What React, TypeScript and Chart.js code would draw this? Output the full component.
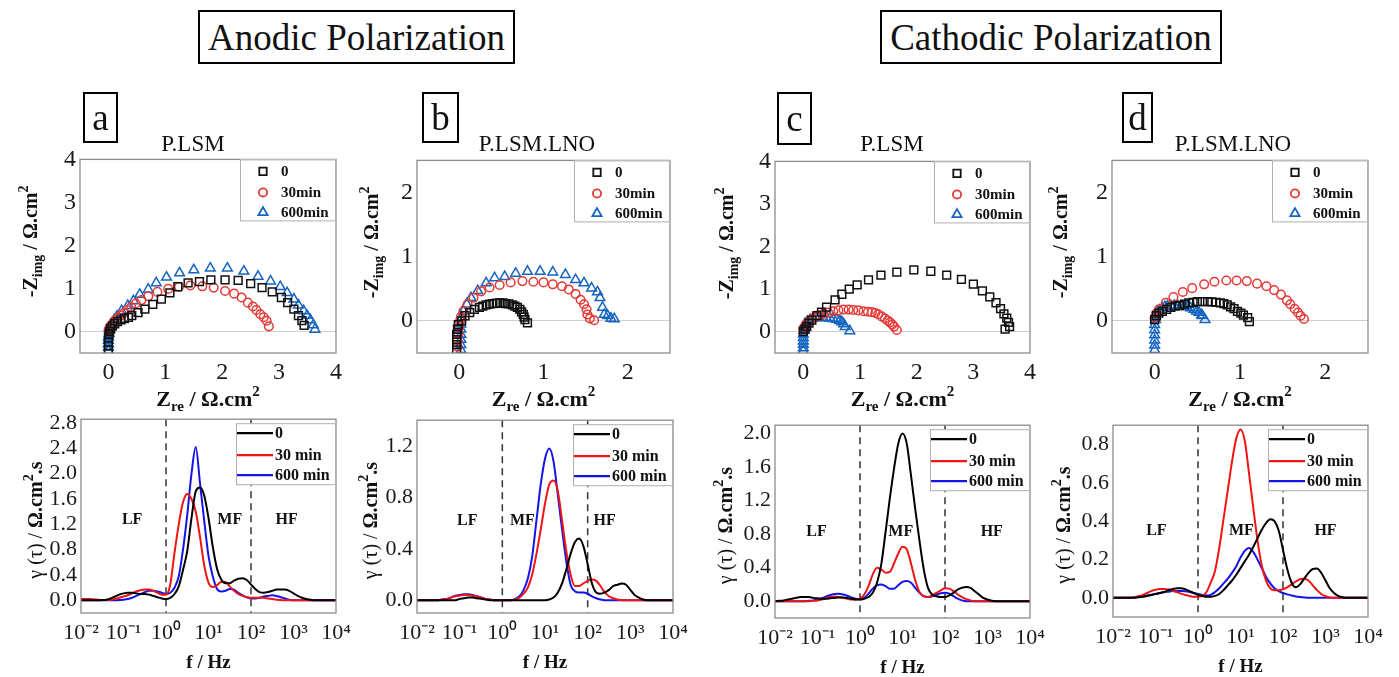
import React, { useEffect, useRef } from 'react';
import { Chart, registerables } from 'chart.js';

Chart.register(...registerables);

const FONT = "'Liberation Serif', 'Times New Roman', Times, serif";

// ---------- labels & ticks ----------
const NYQ_LABELS = ['0', '30min', '600min'];
const DRT_LABELS = ['0', '30 min', '600 min'];
const NYQ_TICKS_WIDE = [0, 1, 2, 3, 4];
const NYQ_TICKS_NARROW = [0, 1, 2];
const DRT_X_TICKS = [0.01, 0.1, 1, 10, 100, 1000, 10000];
const DRT_X_TICK_LABELS = ['10⁻²', '10⁻¹', '10⁰', '10¹', '10²', '10³', '10⁴'];
const DRT_Y_TICKS_A = [0, 0.4, 0.8, 1.2, 1.6, 2.0, 2.4, 2.8];
const DRT_Y_TICKS_B = [0, 0.4, 0.8, 1.2];
const DRT_Y_TICKS_C = [0, 0.4, 0.8, 1.2, 1.6, 2.0];
const DRT_Y_TICKS_D = [0, 0.2, 0.4, 0.6, 0.8];
const REGION_BOUNDS = [1, 100];
const REGION_NAMES = ['LF', 'MF', 'HF'];

// ---------- Nyquist data [Zre, -Zimg] ----------
const A_NYQ_0 = [[0.0,-0.42],[0.0,-0.33],[0.0,-0.24],[0.0,-0.15],[0.01,-0.07],[0.02,0.0],[0.04,0.07],[0.07,0.13],[0.11,0.18],[0.16,0.23],[0.22,0.27],[0.28,0.3],[0.35,0.33],[0.41,0.37],[0.52,0.44],[0.64,0.52],[0.78,0.63],[0.93,0.75],[1.08,0.9],[1.22,1.04],[1.4,1.13],[1.6,1.16],[1.8,1.2],[2.05,1.2],[2.28,1.19],[2.5,1.11],[2.7,1.02],[2.88,0.92],[3.04,0.79],[3.15,0.67],[3.26,0.52],[3.34,0.37],[3.4,0.25],[3.44,0.14]];
const A_NYQ_30 = [[0.0,0.02],[0.02,0.1],[0.06,0.16],[0.1,0.24],[0.15,0.3],[0.21,0.37],[0.27,0.43],[0.33,0.5],[0.4,0.57],[0.48,0.65],[0.58,0.73],[0.7,0.82],[0.86,0.92],[1.05,0.99],[1.24,1.04],[1.44,1.07],[1.65,1.05],[1.85,1.02],[2.05,0.94],[2.21,0.88],[2.34,0.79],[2.45,0.67],[2.54,0.58],[2.6,0.5],[2.67,0.4],[2.73,0.33],[2.78,0.25],[2.82,0.12]];
const A_NYQ_600 = [[0.0,-0.45],[0.0,-0.37],[0.0,-0.29],[0.0,-0.21],[0.0,-0.13],[0.01,-0.05],[0.02,0.03],[0.04,0.11],[0.07,0.19],[0.1,0.27],[0.15,0.35],[0.23,0.48],[0.34,0.6],[0.44,0.71],[0.55,0.86],[0.7,0.98],[0.84,1.13],[1.02,1.26],[1.25,1.36],[1.5,1.43],[1.79,1.47],[2.09,1.47],[2.38,1.4],[2.63,1.28],[2.85,1.17],[3.02,1.04],[3.14,0.9],[3.26,0.75],[3.34,0.61],[3.43,0.48],[3.49,0.37],[3.55,0.27],[3.6,0.15],[3.63,0.05]];

const B_NYQ_0 = [[-0.03,-0.45],[-0.03,-0.37],[-0.03,-0.29],[-0.03,-0.21],[-0.02,-0.13],[-0.01,-0.06],[0.03,0.0],[0.07,0.08],[0.125,0.13],[0.18,0.18],[0.24,0.21],[0.28,0.23],[0.32,0.25],[0.36,0.26],[0.4,0.27],[0.44,0.275],[0.48,0.28],[0.52,0.28],[0.55,0.27],[0.59,0.265],[0.63,0.25],[0.66,0.23],[0.69,0.21],[0.72,0.18],[0.74,0.14],[0.76,0.1],[0.77,0.06],[0.78,0.02],[0.81,-0.03]];
const B_NYQ_30 = [[-0.02,-0.4],[-0.02,-0.3],[-0.01,-0.2],[0.0,-0.1],[0.01,0.0],[0.02,0.06],[0.05,0.15],[0.1,0.26],[0.17,0.36],[0.26,0.46],[0.36,0.52],[0.48,0.56],[0.61,0.6],[0.75,0.62],[0.88,0.61],[1.0,0.6],[1.11,0.57],[1.22,0.54],[1.3,0.49],[1.38,0.42],[1.44,0.33],[1.48,0.26],[1.51,0.18],[1.52,0.1],[1.55,0.04],[1.6,0.01]];
const B_NYQ_600 = [[0.02,-0.45],[0.02,-0.37],[0.02,-0.29],[0.02,-0.21],[0.02,-0.13],[0.02,-0.05],[0.03,0.06],[0.05,0.15],[0.09,0.26],[0.14,0.36],[0.22,0.47],[0.32,0.59],[0.42,0.67],[0.54,0.69],[0.67,0.74],[0.81,0.77],[0.96,0.77],[1.11,0.76],[1.26,0.72],[1.38,0.64],[1.48,0.59],[1.57,0.51],[1.64,0.45],[1.67,0.36],[1.7,0.21],[1.72,0.1],[1.76,0.08],[1.8,0.04],[1.84,0.03]];

const C_NYQ_0 = [[0.0,0.0],[0.03,0.06],[0.06,0.12],[0.1,0.2],[0.15,0.27],[0.24,0.38],[0.32,0.46],[0.41,0.58],[0.56,0.75],[0.68,0.88],[0.81,1.0],[0.95,1.1],[1.15,1.22],[1.37,1.33],[1.65,1.4],[1.95,1.45],[2.25,1.42],[2.53,1.33],[2.79,1.23],[3.0,1.12],[3.16,0.96],[3.29,0.82],[3.4,0.68],[3.48,0.54],[3.54,0.42],[3.59,0.32],[3.62,0.22],[3.64,0.12],[3.56,0.06]];
const C_NYQ_30 = [[0.0,0.08],[0.04,0.16],[0.09,0.23],[0.15,0.3],[0.21,0.35],[0.28,0.39],[0.35,0.42],[0.44,0.45],[0.53,0.48],[0.62,0.5],[0.71,0.52],[0.8,0.52],[0.88,0.51],[0.97,0.5],[1.06,0.48],[1.14,0.47],[1.21,0.46],[1.27,0.44],[1.32,0.41],[1.38,0.36],[1.44,0.31],[1.49,0.26],[1.53,0.22],[1.57,0.17],[1.6,0.12],[1.65,0.04]];
const C_NYQ_600 = [[0.0,-0.45],[0.0,-0.38],[0.0,-0.3],[0.0,-0.22],[0.0,-0.14],[0.0,-0.06],[0.01,0.03],[0.02,0.1],[0.03,0.19],[0.07,0.24],[0.12,0.28],[0.17,0.31],[0.22,0.33],[0.28,0.335],[0.35,0.33],[0.41,0.325],[0.47,0.32],[0.53,0.305],[0.59,0.29],[0.64,0.26],[0.68,0.23],[0.71,0.18],[0.74,0.12],[0.82,0.02]];

const D_NYQ_0 = [[0.0,0.02],[0.02,0.08],[0.05,0.12],[0.09,0.15],[0.14,0.18],[0.19,0.21],[0.24,0.23],[0.29,0.24],[0.35,0.26],[0.4,0.28],[0.45,0.29],[0.5,0.3],[0.56,0.3],[0.62,0.3],[0.67,0.295],[0.72,0.29],[0.77,0.28],[0.81,0.27],[0.85,0.25],[0.89,0.22],[0.93,0.19],[0.97,0.15],[1.01,0.12],[1.04,0.09],[1.09,0.05],[1.11,-0.01]];
const D_NYQ_30 = [[0.0,0.05],[0.02,0.12],[0.05,0.18],[0.13,0.28],[0.22,0.37],[0.33,0.45],[0.44,0.51],[0.58,0.57],[0.7,0.61],[0.84,0.63],[0.96,0.63],[1.08,0.62],[1.2,0.58],[1.31,0.54],[1.4,0.48],[1.48,0.41],[1.55,0.32],[1.59,0.26],[1.64,0.19],[1.68,0.13],[1.71,0.08],[1.75,0.03]];
const D_NYQ_600 = [[0.0,-0.45],[0.0,-0.38],[0.0,-0.3],[0.0,-0.22],[0.0,-0.14],[0.0,-0.06],[0.01,0.02],[0.01,0.08],[0.03,0.13],[0.06,0.17],[0.09,0.2],[0.12,0.22],[0.15,0.23],[0.19,0.235],[0.23,0.24],[0.27,0.235],[0.31,0.23],[0.35,0.225],[0.38,0.22],[0.42,0.2],[0.46,0.18],[0.49,0.15],[0.52,0.13],[0.55,0.09],[0.56,0.08],[0.59,0.02]];

// ---------- DRT data: log10(f) grid and gamma values ----------
const LOG_F = [-2.0,-1.9,-1.8,-1.7,-1.6,-1.5,-1.4,-1.3,-1.2,-1.1,-1.0,-0.9,-0.8,-0.7,-0.6,-0.5,-0.4,-0.3,-0.2,-0.1,0.0,0.1,0.2,0.3,0.4,0.5,0.6,0.7,0.8,0.9,1.0,1.1,1.2,1.3,1.4,1.5,1.6,1.7,1.8,1.9,2.0,2.1,2.2,2.3,2.4,2.5,2.6,2.7,2.8,2.9,3.0,3.1,3.2,3.3,3.4,3.5,3.6,3.7,3.8,3.9,4.0];
const FREQ = LOG_F.map((v) => Math.pow(10, v));

const A_DRT_0 = [0,0,0,0,0,0.005,0.01,0.03,0.06,0.09, 0.11,0.12,0.12,0.11,0.1,0.1,0.09,0.07,0.05,0.03, 0.02,0.04,0.1,0.22,0.48,0.78,1.3,1.72,1.78,1.65, 1.3,0.85,0.5,0.33,0.27,0.27,0.31,0.34,0.35,0.32, 0.25,0.18,0.13,0.12,0.13,0.15,0.17,0.17,0.17,0.15, 0.11,0.07,0.04,0.02,0.01,0,0,0,0,0, 0];
const A_DRT_30 = [0.02,0.02,0.02,0.015,0.01,0.005,0.005,0.01,0.02,0.04, 0.06,0.08,0.11,0.14,0.16,0.17,0.17,0.15,0.12,0.09, 0.09,0.25,0.75,1.2,1.55,1.68,1.6,1.4,1.0,0.55, 0.28,0.21,0.24,0.29,0.29,0.22,0.15,0.1,0.07,0.05, 0.04,0.04,0.04,0.04,0.03,0.02,0.01,0.005,0,0, 0,0,0,0,0,0,0,0,0,0, 0];
const A_DRT_600 = [0,0,0,0,0,0,0,0,0,0.005, 0.01,0.02,0.04,0.07,0.1,0.13,0.15,0.15,0.14,0.12, 0.1,0.12,0.2,0.38,0.8,1.35,2.0,2.42,1.85,1.25, 0.7,0.38,0.18,0.14,0.15,0.18,0.17,0.12,0.08,0.05, 0.03,0.03,0.04,0.06,0.07,0.08,0.07,0.05,0.03,0.01, 0,0,0,0,0,0,0,0,0,0, 0];

const B_DRT_0 = [0,0,0,0,0,0,0,0,0,0, 0.01,0.015,0.02,0.02,0.015,0.01,0.005,0,0,0, 0,0,0,0,0,0,0,0,0,0, 0,0.005,0.02,0.06,0.13,0.24,0.36,0.45,0.48,0.42, 0.28,0.13,0.06,0.05,0.06,0.08,0.11,0.12,0.13,0.12, 0.08,0.04,0.02,0.005,0,0,0,0,0,0, 0];
const B_DRT_30 = [0,0,0,0,0,0,0.005,0.01,0.02,0.03, 0.035,0.04,0.04,0.035,0.03,0.02,0.01,0.005,0,0, 0,0,0,0.005,0.02,0.05,0.1,0.2,0.36,0.55, 0.75,0.9,0.93,0.85,0.62,0.38,0.2,0.11,0.11,0.13, 0.15,0.16,0.15,0.11,0.06,0.03,0.015,0.005,0,0, 0,0,0,0,0,0,0,0,0,0, 0];
const B_DRT_600 = [0,0,0,0,0,0,0.005,0.01,0.02,0.035, 0.04,0.045,0.045,0.04,0.03,0.02,0.01,0.005,0,0, 0,0,0,0.01,0.03,0.08,0.17,0.34,0.62,0.9, 1.1,1.18,1.08,0.82,0.55,0.3,0.12,0.07,0.06,0.06, 0.05,0.03,0.015,0.005,0,0,0,0,0,0, 0,0,0,0,0,0,0,0,0,0, 0];

const C_DRT_0 = [0,0.005,0.01,0.02,0.03,0.04,0.05,0.05,0.05,0.04, 0.035,0.03,0.03,0.035,0.04,0.045,0.045,0.04,0.03,0.02, 0.02,0.03,0.05,0.1,0.22,0.44,0.82,1.22,1.58,1.88, 2.0,1.88,1.5,1.1,0.72,0.38,0.16,0.08,0.06,0.05, 0.05,0.07,0.1,0.14,0.16,0.17,0.16,0.12,0.08,0.04, 0.02,0.005,0,0,0,0,0,0,0,0, 0];
const C_DRT_30 = [0,0,0,0,0,0,0,0,0,0.005, 0.01,0.02,0.035,0.05,0.055,0.05,0.04,0.03,0.02,0.02, 0.03,0.08,0.18,0.32,0.4,0.38,0.34,0.35,0.45,0.57, 0.65,0.62,0.45,0.25,0.11,0.06,0.05,0.07,0.1,0.13, 0.155,0.15,0.12,0.08,0.05,0.025,0.01,0,0,0, 0,0,0,0,0,0,0,0,0,0, 0];
const C_DRT_600 = [0,0,0,0,0,0,0,0,0.005,0.01, 0.02,0.035,0.055,0.075,0.085,0.09,0.08,0.065,0.045,0.03, 0.025,0.04,0.09,0.15,0.19,0.2,0.18,0.15,0.15,0.19, 0.23,0.24,0.22,0.16,0.1,0.06,0.05,0.06,0.08,0.095, 0.1,0.09,0.06,0.03,0.01,0,0,0,0,0, 0,0,0,0,0,0,0,0,0,0, 0];

const D_DRT_0 = [0,0,0,0,0,0,0.003,0.006,0.01,0.015, 0.02,0.025,0.03,0.04,0.045,0.05,0.05,0.045,0.035,0.025, 0.015,0.01,0.005,0.005,0.01,0.02,0.04,0.065,0.09,0.12, 0.155,0.19,0.225,0.265,0.31,0.355,0.39,0.41,0.4,0.35, 0.25,0.15,0.08,0.055,0.07,0.1,0.13,0.15,0.153,0.13, 0.09,0.05,0.025,0.01,0.003,0,0,0,0,0, 0];
const D_DRT_30 = [0,0,0,0,0,0.003,0.008,0.015,0.025,0.035, 0.042,0.046,0.046,0.043,0.037,0.03,0.022,0.015,0.01,0.005, 0.005,0.01,0.03,0.08,0.14,0.26,0.41,0.56,0.71,0.83, 0.878,0.82,0.65,0.47,0.3,0.17,0.09,0.05,0.04,0.04, 0.045,0.055,0.07,0.085,0.097,0.1,0.09,0.065,0.04,0.02, 0.008,0.002,0,0,0,0,0,0,0,0, 0];
const D_DRT_600 = [0,0,0,0,0,0.002,0.005,0.008,0.012,0.016, 0.02,0.025,0.029,0.032,0.035,0.036,0.036,0.034,0.03,0.025, 0.02,0.015,0.012,0.015,0.03,0.05,0.075,0.1,0.13,0.165, 0.21,0.245,0.26,0.24,0.2,0.155,0.11,0.075,0.05,0.035, 0.025,0.018,0.012,0.007,0.004,0.002,0,0,0,0, 0,0,0,0,0,0,0,0,0,0, 0];

// ---------- styles ----------
const NYQ_COLORS = ['#111111', '#e53935', '#1565c0'];
const NYQ_STYLES = ['rect', 'circle', 'triangle'];
const NYQ_RADII = [5.5, 4.3, 5.6];
const DRT_COLORS = ['#000000', '#f01414', '#1414e6'];

type Seg = { t: string; size: number; bold?: boolean; dy?: number };
const NYQ_X_TITLE: Seg[] = [
  { t: 'Z', size: 22, bold: true },
  { t: 're', size: 15, bold: true, dy: 5 },
  { t: ' / Ω.cm', size: 22, bold: true },
  { t: '2', size: 15, bold: true, dy: -10 },
];
const NYQ_Y_TITLE: Seg[] = [
  { t: '-Z', size: 20, bold: true },
  { t: 'img', size: 14, bold: true, dy: 5 },
  { t: ' / Ω.cm', size: 20, bold: true },
  { t: '2', size: 14, bold: true, dy: -9 },
];
const DRT_X_TITLE: Seg[] = [{ t: 'f / Hz', size: 19, bold: true }];
const DRT_Y_TITLE: Seg[] = [
  { t: 'γ (τ) / ', size: 20 },
  { t: 'Ω.cm', size: 20, bold: true },
  { t: '2', size: 14, bold: true, dy: -9 },
  { t: '.s', size: 20, bold: true },
];

const LEFT = 75;
const RIGHT = 22;
const TOP = 14;
const BOTTOM = 62;

type Panel = {
  kind: 'nyq' | 'drt';
  area: number[];
  xMin: number; xMax: number; yMin: number; yMax: number;
  xTicks: number[]; yTicks: number[];
  series: any[];
  yTitleX: number;
  regionPos?: number[][];
};

const PANELS: Panel[] = [
  { kind: 'nyq', area: [80, 155, 336, 353], xMin: -0.5, xMax: 4, yMin: -0.5, yMax: 4, xTicks: NYQ_TICKS_WIDE, yTicks: NYQ_TICKS_WIDE, series: [A_NYQ_0, A_NYQ_30, A_NYQ_600], yTitleX: 43 },
  { kind: 'nyq', area: [417, 156, 670, 353], xMin: -0.5, xMax: 2.5, yMin: -0.5, yMax: 2.5, xTicks: NYQ_TICKS_NARROW, yTicks: NYQ_TICKS_NARROW, series: [B_NYQ_0, B_NYQ_30, B_NYQ_600], yTitleX: 39 },
  { kind: 'nyq', area: [775, 157, 1030, 353], xMin: -0.5, xMax: 4, yMin: -0.5, yMax: 4, xTicks: NYQ_TICKS_WIDE, yTicks: NYQ_TICKS_WIDE, series: [C_NYQ_0, C_NYQ_30, C_NYQ_600], yTitleX: 42 },
  { kind: 'nyq', area: [1112, 156, 1368, 353], xMin: -0.5, xMax: 2.5, yMin: -0.5, yMax: 2.5, xTicks: NYQ_TICKS_NARROW, yTicks: NYQ_TICKS_NARROW, series: [D_NYQ_0, D_NYQ_30, D_NYQ_600], yTitleX: 45 },
  { kind: 'drt', area: [81, 416, 336, 613], xMin: 0.01, xMax: 10000, yMin: -0.2, yMax: 2.86, xTicks: DRT_X_TICKS, yTicks: DRT_Y_TICKS_A, series: [A_DRT_0, A_DRT_30, A_DRT_600], yTitleX: 39, regionPos: [[0.16, 1.27], [31.6, 1.27], [690, 1.27]] },
  { kind: 'drt', area: [417, 417, 673, 613], xMin: 0.01, xMax: 10000, yMin: -0.1, yMax: 1.4, xTicks: DRT_X_TICKS, yTicks: DRT_Y_TICKS_B, series: [B_DRT_0, B_DRT_30, B_DRT_600], yTitleX: 40, regionPos: [[0.15, 0.62], [2.95, 0.62], [250, 0.62]] },
  { kind: 'drt', area: [775, 422, 1030, 618], xMin: 0.01, xMax: 10000, yMin: -0.2, yMax: 2.1, xTicks: DRT_X_TICKS, yTicks: DRT_Y_TICKS_C, series: [C_DRT_0, C_DRT_30, C_DRT_600], yTitleX: 43, regionPos: [[0.095, 0.83], [9.1, 0.83], [1260, 0.83]] },
  { kind: 'drt', area: [1113, 422, 1368, 617], xMin: 0.01, xMax: 10000, yMin: -0.1, yMax: 0.9, xTicks: DRT_X_TICKS, yTicks: DRT_Y_TICKS_D, series: [D_DRT_0, D_DRT_30, D_DRT_600], yTitleX: 43, regionPos: [[0.105, 0.35], [10.5, 0.35], [1000, 0.35]] },
];

function drawRich(ctx: CanvasRenderingContext2D, segs: Seg[], x: number, y: number, rotated: boolean) {
  ctx.save();
  ctx.translate(x, y);
  if (rotated) ctx.rotate(-Math.PI / 2);
  ctx.fillStyle = '#111';
  ctx.textAlign = 'left';
  ctx.textBaseline = 'alphabetic';
  const fontOf = (s: Seg) => `${s.bold ? 'bold ' : ''}${s.size}px ${FONT}`;
  const widths = segs.map((s) => {
    ctx.font = fontOf(s);
    return ctx.measureText(s.t).width;
  });
  let cx = -widths.reduce((p, w) => p + w, 0) / 2;
  segs.forEach((s, i) => {
    ctx.font = fontOf(s);
    ctx.fillText(s.t, cx, s.dy || 0);
    cx += widths[i];
  });
  ctx.restore();
}

function marker(ctx: CanvasRenderingContext2D, style: string, x: number, y: number, r: number) {
  ctx.beginPath();
  if (style === 'rect') {
    const s = r * Math.SQRT1_2;
    ctx.rect(x - s, y - s, 2 * s, 2 * s);
  } else if (style === 'circle') {
    ctx.arc(x, y, r, 0, Math.PI * 2);
  } else {
    ctx.moveTo(x, y - r);
    ctx.lineTo(x + 0.866 * r, y + 0.5 * r);
    ctx.lineTo(x - 0.866 * r, y + 0.5 * r);
    ctx.closePath();
  }
  ctx.stroke();
}

function makeDecor(p: Panel) {
  const isNyq = p.kind === 'nyq';
  return {
    id: 'decor',
    beforeDatasetsDraw(chart: any) {
      if (isNyq) return;
      const { ctx, chartArea: a, scales } = chart;
      ctx.save();
      ctx.strokeStyle = '#333';
      ctx.lineWidth = 1.5;
      ctx.setLineDash([7, 5]);
      REGION_BOUNDS.forEach((f) => {
        const x = scales.x.getPixelForValue(f);
        ctx.beginPath();
        ctx.moveTo(x, a.top);
        ctx.lineTo(x, a.bottom);
        ctx.stroke();
      });
      ctx.restore();
    },
    afterDatasetsDraw(chart: any) {
      const { ctx, chartArea: a, scales } = chart;
      ctx.save();
      if (!isNyq && p.regionPos) {
        ctx.fillStyle = '#111';
        ctx.font = `bold 16px ${FONT}`;
        ctx.textAlign = 'center';
        ctx.textBaseline = 'middle';
        REGION_NAMES.forEach((name, i) => {
          const [f, y] = p.regionPos![i];
          ctx.fillText(name, scales.x.getPixelForValue(f), scales.y.getPixelForValue(y));
        });
      }
      // frame
      ctx.strokeStyle = '#8c8c8c';
      ctx.lineWidth = 1.3;
      ctx.strokeRect(a.left, a.top, a.right - a.left, a.bottom - a.top);
      // legend
      const ds = chart.data.datasets;
      if (isNyq) {
        const w = 96, h = 62;
        const lx = a.right - w, ly = a.top;
        ctx.fillStyle = '#fff';
        ctx.fillRect(lx, ly, w, h);
        ctx.strokeStyle = '#b0b0b0';
        ctx.lineWidth = 1;
        ctx.strokeRect(lx + 0.5, ly + 0.5, w - 1, h - 1);
        const rows = [12, 33, 53];
        ds.forEach((d: any, i: number) => {
          ctx.strokeStyle = d.borderColor;
          ctx.lineWidth = 1.8;
          marker(ctx, d.pointStyle, lx + 23, ly + rows[i], d.pointRadius * 0.95);
          ctx.fillStyle = '#111';
          ctx.font = `bold 15px ${FONT}`;
          ctx.textAlign = 'left';
          ctx.textBaseline = 'middle';
          ctx.fillText(d.label, lx + 41, ly + rows[i] + 1);
        });
      } else {
        const w = 100, h = 62;
        const lx = a.right - w, ly = a.top + 4;
        ctx.fillStyle = '#fff';
        ctx.fillRect(lx, ly, w, h);
        ctx.strokeStyle = '#b0b0b0';
        ctx.lineWidth = 1;
        ctx.strokeRect(lx + 0.5, ly + 0.5, w - 1, h - 1);
        const rows = [10, 32, 52];
        ds.forEach((d: any, i: number) => {
          ctx.strokeStyle = d.borderColor;
          ctx.lineWidth = 2.2;
          ctx.beginPath();
          ctx.moveTo(lx + 1, ly + rows[i]);
          ctx.lineTo(lx + 37, ly + rows[i]);
          ctx.stroke();
          ctx.fillStyle = '#111';
          ctx.font = `bold 16px ${FONT}`;
          ctx.textAlign = 'left';
          ctx.textBaseline = 'middle';
          ctx.fillText(d.label, lx + 39, ly + rows[i] + 1);
        });
      }
      ctx.restore();
      // axis titles
      const cxArea = (a.left + a.right) / 2;
      if (isNyq) {
        drawRich(ctx, NYQ_X_TITLE, cxArea, a.bottom + 53, false);
        drawRich(ctx, NYQ_Y_TITLE, a.left - p.yTitleX, a.top + 82, true);
      } else {
        drawRich(ctx, DRT_X_TITLE, cxArea, a.bottom + 55, false);
        drawRich(ctx, DRT_Y_TITLE, a.left - p.yTitleX, (a.top + a.bottom) / 2 + 4, true);
      }
    },
  };
}

function buildConfig(p: Panel): any {
  const isNyq = p.kind === 'nyq';
  const datasets = isNyq
    ? p.series.map((pts: number[][], i: number) => ({
        label: NYQ_LABELS[i],
        data: pts.map(([x, y]) => ({ x, y })),
        pointStyle: NYQ_STYLES[i],
        pointRadius: NYQ_RADII[i],
        borderColor: NYQ_COLORS[i],
        backgroundColor: 'rgba(0,0,0,0)',
        borderWidth: 1.5,
        showLine: false,
      }))
    : p.series.map((vals: number[], i: number) => ({
        label: DRT_LABELS[i],
        data: FREQ.map((f, k) => ({ x: f, y: vals[k] })),
        borderColor: DRT_COLORS[i],
        backgroundColor: DRT_COLORS[i],
        borderWidth: 2,
        pointRadius: 0,
        cubicInterpolationMode: 'monotone',
        fill: false,
      }));
  const tickFont = { family: FONT, size: isNyq ? 24 : 22 };
  return {
    type: isNyq ? 'scatter' : 'line',
    data: { datasets },
    plugins: [makeDecor(p)],
    options: {
      animation: false,
      responsive: false,
      devicePixelRatio: 1,
      events: [],
      layout: { padding: { left: 0, top: TOP, right: RIGHT, bottom: 0 } },
      plugins: { legend: { display: false }, tooltip: { enabled: false }, title: { display: false } },
      scales: {
        x: {
          type: isNyq ? 'linear' : 'logarithmic',
          min: p.xMin,
          max: p.xMax,
          grid: { display: false, drawTicks: false },
          border: { display: false },
          afterBuildTicks: (s: any) => {
            s.ticks = p.xTicks.map((v) => ({ value: v }));
          },
          afterFit: (s: any) => {
            s.height = BOTTOM;
          },
          ticks: {
            font: tickFont,
            color: '#1a1a1a',
            padding: isNyq ? 5 : 7,
            maxRotation: 0,
            autoSkip: false,
            callback: (v: any, idx: number) => (isNyq ? String(v) : DRT_X_TICK_LABELS[idx]),
          },
        },
        y: {
          type: 'linear',
          min: p.yMin,
          max: p.yMax,
          grid: {
            display: isNyq,
            drawTicks: false,
            color: (c: any) => (c.tick && c.tick.value === 0 ? '#cfcfcf' : 'rgba(0,0,0,0)'),
            lineWidth: 1,
          },
          border: { display: false },
          afterBuildTicks: (s: any) => {
            s.ticks = p.yTicks.map((v) => ({ value: v }));
          },
          afterFit: (s: any) => {
            s.width = LEFT;
          },
          ticks: {
            font: tickFont,
            color: '#1a1a1a',
            padding: 4,
            autoSkip: false,
            callback: (v: any) => (isNyq ? String(v) : Number(v).toFixed(1)),
          },
        },
      },
    },
  };
}

function ChartBox({ p }: { p: Panel }) {
  const ref = useRef<HTMLCanvasElement>(null);
  const [l, t, r, b] = p.area;
  const w = r - l + LEFT + RIGHT;
  const h = b - t + TOP + BOTTOM;
  useEffect(() => {
    const chart = new Chart(ref.current as HTMLCanvasElement, buildConfig(p));
    return () => chart.destroy();
  }, []);
  return (
    <canvas
      ref={ref}
      width={w}
      height={h}
      style={{ position: 'absolute', left: l - LEFT, top: t - TOP, width: w, height: h }}
    />
  );
}

const TITLES = [
  { text: 'Anodic Polarization', left: 198, top: 10, width: 317, height: 54 },
  { text: 'Cathodic Polarization', left: 880, top: 10, width: 342, height: 54 },
];
const LETTERS = [
  { text: 'a', left: 83, top: 92, width: 35, height: 51 },
  { text: 'b', left: 422, top: 92, width: 37, height: 51 },
  { text: 'c', left: 777, top: 92, width: 35, height: 53 },
  { text: 'd', left: 1122, top: 92, width: 31, height: 51 },
];
const SUBTITLES = [
  { text: 'P.LSM', cx: 193 },
  { text: 'P.LSM.LNO', cx: 537 },
  { text: 'P.LSM', cx: 892 },
  { text: 'P.LSM.LNO', cx: 1233 },
];

export default function App() {
  return (
    <div style={{ position: 'absolute', left: 0, top: 0, width: 1399, height: 677, background: '#fff', overflow: 'hidden', fontFamily: FONT, color: '#111' }}>
      {PANELS.map((p, i) => (
        <ChartBox key={i} p={p} />
      ))}
      {TITLES.map((tt, i) => (
        <div key={'t' + i} style={{ position: 'absolute', left: tt.left, top: tt.top, width: tt.width, height: tt.height, border: '2.5px solid #000', boxSizing: 'border-box', display: 'flex', alignItems: 'center', justifyContent: 'center', fontSize: 37, lineHeight: '37px', whiteSpace: 'nowrap' }}>
          {tt.text}
        </div>
      ))}
      {LETTERS.map((lt, i) => (
        <div key={'l' + i} style={{ position: 'absolute', left: lt.left, top: lt.top, width: lt.width, height: lt.height, border: '2.5px solid #000', boxSizing: 'border-box', display: 'flex', alignItems: 'center', justifyContent: 'center', fontSize: 37, lineHeight: '37px' }}>
          {lt.text}
        </div>
      ))}
      {SUBTITLES.map((st, i) => (
        <div key={'s' + i} style={{ position: 'absolute', left: st.cx - 100, top: 132, width: 200, textAlign: 'center', fontSize: 23, lineHeight: '23px', whiteSpace: 'nowrap' }}>
          {st.text}
        </div>
      ))}
    </div>
  );
}
